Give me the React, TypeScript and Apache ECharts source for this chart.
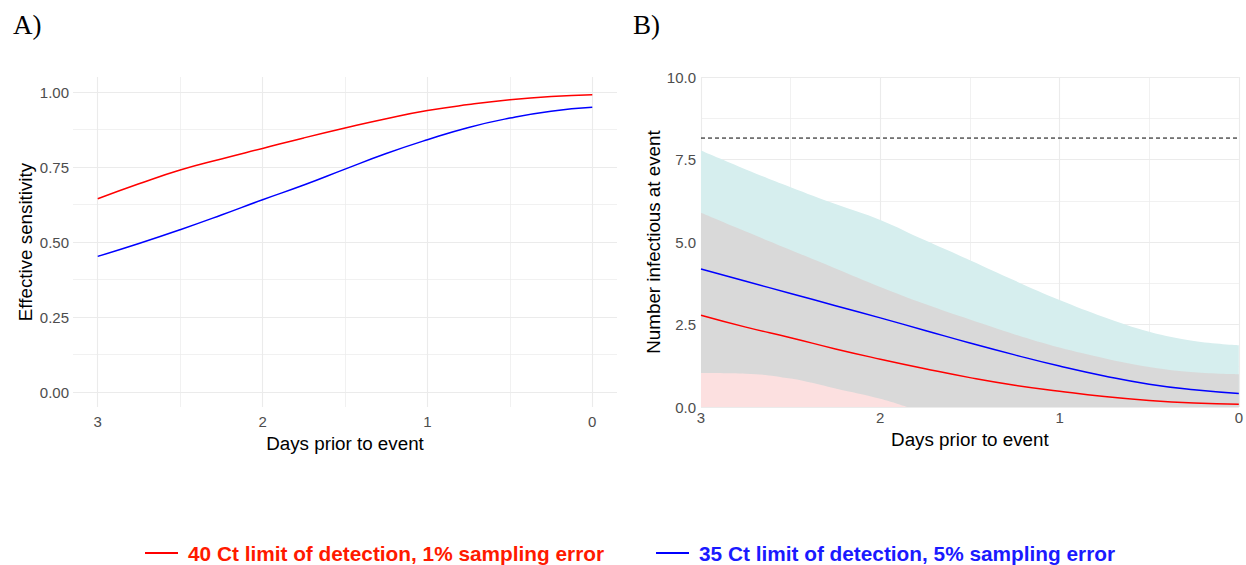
import React, { useEffect, useRef } from "react";
import * as echarts from "echarts";

// ---- Data ----
const days = [3, 2.75, 2.5, 2.25, 2, 1.75, 1.5, 1.25, 1, 0.75, 0.5, 0.25, 0];
const sens40 = [0.644, 0.694, 0.74, 0.777, 0.812, 0.847, 0.88, 0.911, 0.938, 0.958, 0.974, 0.985, 0.991];
const sens35 = [0.452, 0.495, 0.541, 0.59, 0.641, 0.69, 0.743, 0.795, 0.841, 0.882, 0.913, 0.936, 0.949];
const inf40 = [2.78, 2.42, 2.1, 1.76, 1.45, 1.16, 0.89, 0.66, 0.48, 0.32, 0.2, 0.12, 0.08];
const inf35 = [4.18, 3.81, 3.44, 3.07, 2.7, 2.32, 1.94, 1.58, 1.24, 0.94, 0.69, 0.52, 0.41];
const upper40 = [5.89, 5.32, 4.76, 4.2, 3.64, 3.12, 2.65, 2.2, 1.8, 1.48, 1.21, 1.05, 0.99];
const upper35 = [7.77, 7.2, 6.66, 6.15, 5.67, 5.05, 4.45, 3.83, 3.24, 2.72, 2.28, 2.0, 1.87];
const lower35Days = [3, 2.75, 2.5, 2.25, 2, 1.85];
const lower35 = [1.03, 1.01, 0.86, 0.56, 0.25, 0];
const eventSize = [8.15, 8.15];
const eventDays = [3, 0];

const NAME40 = "40 Ct limit of detection, 1% sampling error";
const NAME35 = "35 Ct limit of detection, 5% sampling error";

const sensTicks = [0, 0.25, 0.5, 0.75, 1];
const sensMinor = [0.125, 0.375, 0.625, 0.875];
const dayTicks = [0, 1, 2, 3];
const dayMinor = [0.5, 1.5, 2.5];

const pairs = (xs: number[], ys: number[]) => xs.map((x, i) => [x, ys[i]]);

const FONT = "Liberation Sans, Arial, Helvetica, sans-serif";
const GRID_COLOR = "#EBEBEB";
const TICK_COLOR = "#4D4D4D";

export default function App() {
  const ref = useRef<HTMLDivElement>(null);

  useEffect(() => {
    if (!ref.current) return;
    const chart = echarts.init(ref.current, undefined, { renderer: "svg" });

    const majorSplit = { show: true, lineStyle: { color: GRID_COLOR, width: 1.1 } };
    const minorSplit = { show: true, lineStyle: { color: GRID_COLOR, width: 0.7 } };
    const labelStyle = { color: TICK_COLOR, fontSize: 15, fontFamily: FONT };
    const nameStyle = { color: "#000", fontSize: 18.8, fontFamily: FONT };

    const lineSeries = (name: string, data: number[][], color: string, xi: number, yi: number) => ({
      type: "line",
      name,
      xAxisIndex: xi,
      yAxisIndex: yi,
      data,
      smooth: true,
      symbol: "none",
      showSymbol: false,
      lineStyle: { color, width: 1.5 },
      itemStyle: { color },
      z: 5,
    });

    const bandSeries = (name: string, data: number[][], color: string, z: number) => ({
      type: "line",
      name,
      xAxisIndex: 2,
      yAxisIndex: 2,
      data,
      smooth: 0.4,
      symbol: "none",
      showSymbol: false,
      lineStyle: { width: 0, opacity: 0 },
      areaStyle: { color, opacity: 1 },
      z,
    });

    chart.setOption({
      animation: false,
      backgroundColor: "#fff",
      grid: [
        { left: 73, top: 77, width: 544, height: 330 },
        { left: 701, top: 77, width: 542, height: 330 },
      ],
      xAxis: [
        {
          type: "value",
          gridIndex: 0,
          min: -0.15,
          max: 3.15,
          inverse: true,
          axisLine: { show: false },
          axisTick: { show: false, customValues: dayTicks },
          axisLabel: { customValues: dayTicks, margin: 7, ...labelStyle, formatter: (v: number) => String(v) },
          splitLine: majorSplit,
          name: "Days prior to event",
          nameLocation: "middle",
          nameGap: 21,
          nameTextStyle: { ...nameStyle, verticalAlign: "top" },
        },
        {
          type: "value",
          gridIndex: 0,
          min: -0.15,
          max: 3.15,
          inverse: true,
          axisLine: { show: false },
          axisTick: { show: false, customValues: dayMinor },
          axisLabel: { show: false, customValues: dayMinor },
          splitLine: minorSplit,
        },
        {
          type: "value",
          gridIndex: 1,
          min: 0,
          max: 3,
          interval: 1,
          inverse: true,
          axisLine: { show: false },
          axisTick: { show: false },
          axisLabel: { margin: 3, ...labelStyle, formatter: (v: number) => String(v) },
          splitLine: majorSplit,
          minorTick: { show: false, splitNumber: 2 },
          minorSplitLine: minorSplit,
          name: "Days prior to event",
          nameLocation: "middle",
          nameGap: 21,
          nameTextStyle: { ...nameStyle, verticalAlign: "top" },
        },
      ],
      yAxis: [
        {
          type: "value",
          gridIndex: 0,
          min: -0.05,
          max: 1.05,
          axisLine: { show: false },
          axisTick: { show: false, customValues: sensTicks },
          axisLabel: { customValues: sensTicks, margin: 4, ...labelStyle, formatter: (v: number) => v.toFixed(2) },
          splitLine: majorSplit,
          name: "Effective sensitivity",
          nameLocation: "middle",
          nameGap: 38,
          nameTextStyle: nameStyle,
        },
        {
          type: "value",
          gridIndex: 0,
          min: -0.05,
          max: 1.05,
          axisLine: { show: false },
          axisTick: { show: false, customValues: sensMinor },
          axisLabel: { show: false, customValues: sensMinor },
          splitLine: minorSplit,
        },
        {
          type: "value",
          gridIndex: 1,
          min: 0,
          max: 10,
          interval: 2.5,
          axisLine: { show: false },
          axisTick: { show: false },
          axisLabel: { margin: 5, ...labelStyle, formatter: (v: number) => v.toFixed(1) },
          splitLine: majorSplit,
          minorTick: { show: false, splitNumber: 2 },
          minorSplitLine: minorSplit,
          name: "Number infectious at event",
          nameLocation: "middle",
          nameGap: 38,
          nameTextStyle: nameStyle,
        },
      ],
      legend: {
        left: 145,
        top: 542,
        padding: 0,
        itemWidth: 33,
        itemHeight: 2,
        itemGap: 52,
        icon: "rect",
        selectedMode: false,
        textStyle: { fontSize: 20.8, lineHeight: 22, fontWeight: "bold", fontFamily: FONT, padding: [0, 0, 0, 5] },
        data: [
          { name: NAME40, textStyle: { color: "#FF1A00" } },
          { name: NAME35, textStyle: { color: "#1A1AFF" } },
        ],
      },
      graphic: [
        {
          type: "text",
          left: 13,
          top: 11,
          style: { text: "A)", font: "27px 'Liberation Serif', 'Times New Roman', serif", fill: "#000" },
        },
        {
          type: "text",
          left: 633,
          top: 11,
          style: { text: "B)", font: "27px 'Liberation Serif', 'Times New Roman', serif", fill: "#000" },
        },
      ],
      series: [
        lineSeries(NAME40, pairs(days, sens40), "#FF0000", 0, 0),
        lineSeries(NAME35, pairs(days, sens35), "#0000FF", 0, 0),
        bandSeries("band35", pairs(days, upper35), "#D6EEEE", 2),
        bandSeries("bandOverlap", pairs(days, upper40), "#D9D9D9", 3),
        bandSeries("band40", pairs(lower35Days, lower35), "#FCE0E0", 4),
        lineSeries(NAME40, pairs(days, inf40), "#FF0000", 2, 2),
        lineSeries(NAME35, pairs(days, inf35), "#0000FF", 2, 2),
        {
          type: "line",
          name: "event",
          xAxisIndex: 2,
          yAxisIndex: 2,
          data: pairs(eventDays, eventSize),
          symbol: "none",
          showSymbol: false,
          lineStyle: { color: "#000", width: 1, type: [4, 3] },
          z: 5,
        },
      ],
    });

    return () => chart.dispose();
  }, []);

  return (
    <div
      ref={ref}
      style={{ position: "fixed", left: 0, top: 0, width: 1246, height: 565, background: "#fff" }}
    />
  );
}
